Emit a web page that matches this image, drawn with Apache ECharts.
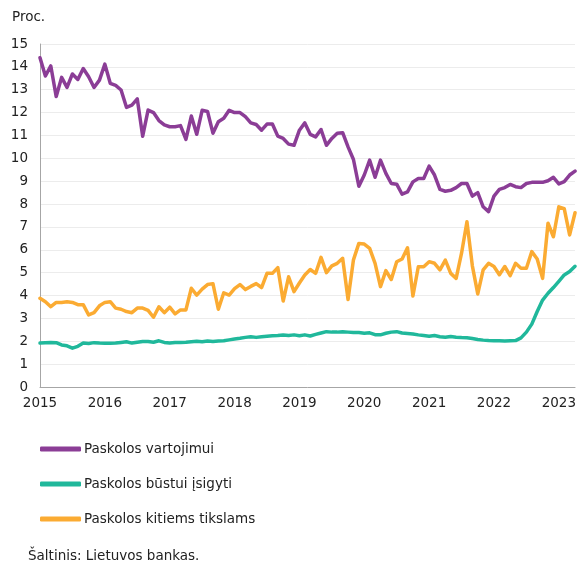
<!DOCTYPE html>
<html>
<head>
<meta charset="utf-8">
<script src="https://cdn.jsdelivr.net/npm/echarts@6/dist/echarts.min.js"></script>
<style>
  html, body { margin: 0; padding: 0; background: #fff; }
  #chart { width: 579px; height: 565px; }
</style>
</head>
<body>
<div id="chart"></div>
<script>
// metai ašiai
const years = ['2015', '2016', '2017', '2018', '2019', '2020', '2021', '2022', '2023']
const yTicks = [0, 15, 1]

// mėnesinės palūkanų normos, proc. (2015-01 ... 2023-04)
const vartojimui = [
  14.4, 13.6, 14.04, 12.7, 13.54, 13.1, 13.69, 13.45, 13.93, 13.57,
  13.1, 13.42, 14.12, 13.28, 13.19, 12.99, 12.23, 12.33, 12.6, 10.97,
  12.11, 12.0, 11.65, 11.46, 11.38, 11.38, 11.43, 10.83, 11.85, 11.05,
  12.1, 12.05, 11.1, 11.6, 11.75, 12.1, 12.0, 12.0, 11.82, 11.55,
  11.48, 11.23, 11.5, 11.5, 10.97, 10.87, 10.62, 10.57, 11.23, 11.55,
  11.05, 10.94, 11.26, 10.57, 10.87, 11.1, 11.12, 10.5, 9.95, 8.78,
  9.27, 9.92, 9.17, 9.92, 9.34, 8.9, 8.87, 8.43, 8.53, 8.97,
  9.12, 9.12, 9.66, 9.27, 8.64, 8.56, 8.6, 8.72, 8.9, 8.9,
  8.35, 8.5, 7.88, 7.67, 8.35, 8.64, 8.72, 8.86, 8.76, 8.72,
  8.9, 8.95, 8.95, 8.95, 9.02, 9.17, 8.88, 8.98, 9.27, 9.44
]
const bustui = [
  1.92, 1.94, 1.95, 1.94, 1.84, 1.8, 1.7, 1.78, 1.92, 1.9,
  1.94, 1.92, 1.91, 1.91, 1.92, 1.95, 1.98, 1.92, 1.96, 1.99,
  1.99, 1.96, 2.02, 1.95, 1.92, 1.95, 1.95, 1.96, 1.98, 2.0,
  1.98, 2.01, 1.99, 2.01, 2.02, 2.06, 2.1, 2.13, 2.17, 2.2,
  2.17, 2.2, 2.22, 2.24, 2.25, 2.27, 2.25, 2.28, 2.24, 2.28,
  2.23, 2.3, 2.36, 2.42, 2.4, 2.4, 2.42, 2.4, 2.38, 2.38,
  2.35, 2.37, 2.29, 2.28, 2.35, 2.4, 2.42, 2.36, 2.34, 2.32,
  2.28, 2.25, 2.22, 2.25, 2.2, 2.18, 2.21, 2.18, 2.16, 2.15,
  2.12, 2.08, 2.05, 2.03, 2.02, 2.02, 2.01, 2.02, 2.03, 2.15,
  2.4, 2.75, 3.3, 3.8, 4.1, 4.35, 4.62, 4.9, 5.05, 5.28
]
const kitiems = [
  3.88, 3.73, 3.51, 3.7, 3.7, 3.73, 3.7, 3.6, 3.6, 3.15,
  3.25, 3.55, 3.7, 3.73, 3.45, 3.4, 3.3, 3.25, 3.45, 3.45,
  3.35, 3.05, 3.51, 3.25, 3.49, 3.2, 3.37, 3.37, 4.32, 4.02,
  4.28, 4.48, 4.52, 3.4, 4.12, 4.02, 4.3, 4.48, 4.26, 4.4,
  4.52, 4.35, 4.97, 4.97, 5.22, 3.76, 4.82, 4.17, 4.55, 4.9,
  5.14, 4.97, 5.67, 5.0, 5.3, 5.41, 5.63, 3.83, 5.56, 6.28,
  6.25, 6.06, 5.41, 4.39, 5.09, 4.7, 5.48, 5.6, 6.09, 3.98,
  5.26, 5.26, 5.48, 5.41, 5.12, 5.55, 4.97, 4.75, 5.85, 7.23,
  5.3, 4.07, 5.12, 5.41, 5.27, 4.91, 5.27, 4.87, 5.41, 5.19,
  5.19, 5.92, 5.6, 4.75, 7.16, 6.57, 7.88, 7.8, 6.65, 7.62
]

// mėnesių kategorijos
const months = vartojimui.map((v, i) => {
  const y = 2015 + Math.floor(i / 12)
  const m = (i % 12) + 1
  return y + '-' + (m < 10 ? '0' + m : m)
})

const font = 'DejaVu Sans, Verdana, sans-serif'
const chart = echarts.init(document.getElementById('chart'))

const makeLine = (name, data, color) => ({
  name: name,
  type: 'line',
  data: data,
  symbol: 'none',
  smooth: false,
  lineStyle: { width: 3.5, color: color, join: 'round', cap: 'round' },
  itemStyle: { color: color },
  emphasis: { disabled: true }
})

chart.setOption({
  animation: false,
  textStyle: { fontFamily: font },
  grid: { left: 40, right: 2, top: 44, bottom: 178, containLabel: false },
  graphic: [
    { type: 'text', left: 12, top: 10, style: { text: 'Proc.', fontSize: 13.5, fontFamily: font, fill: '#222' } },
    { type: 'text', left: 28, top: 549, style: { text: 'Šaltinis: Lietuvos bankas.', fontSize: 13.5, fontFamily: font, fill: '#222' } }
  ],
  legend: {
    orient: 'vertical',
    left: 40,
    top: 442,
    padding: 0,
    itemWidth: 41,
    itemHeight: 5,
    itemGap: 21,
    icon: 'roundRect',
    textStyle: { fontSize: 13.5, fontFamily: font, color: '#222', padding: [0, 0, 0, -2] },
    data: ['Paskolos vartojimui', 'Paskolos būstui įsigyti', 'Paskolos kitiems tikslams']
  },
  xAxis: {
    type: 'category',
    data: months,
    boundaryGap: false,
    axisLine: { lineStyle: { color: '#a6a6a6', width: 1 } },
    axisTick: { show: false },
    axisLabel: {
      interval: (i) => i % 12 === 0,
      formatter: (v) => years[years.indexOf(v.slice(0, 4))],
      fontSize: 13.5,
      color: '#222',
      margin: 9
    },
    splitLine: { show: false }
  },
  yAxis: {
    type: 'value',
    min: yTicks[0],
    max: yTicks[1],
    interval: yTicks[2],
    axisLine: { show: true, lineStyle: { color: '#a6a6a6', width: 1 } },
    axisTick: { show: false },
    axisLabel: { fontSize: 13.5, color: '#222', margin: 12 },
    splitLine: { lineStyle: { color: '#ececec', width: 1 } }
  },
  series: [
    makeLine('Paskolos vartojimui', vartojimui, '#8b3d96'),
    makeLine('Paskolos būstui įsigyti', bustui, '#20b89b'),
    makeLine('Paskolos kitiems tikslams', kitiems, '#fbab32')
  ]
})
</script>
</body>
</html>
